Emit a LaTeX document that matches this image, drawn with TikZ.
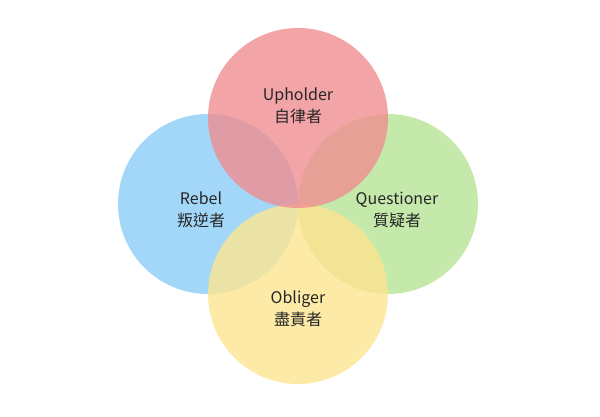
\documentclass[tikz,border=0pt]{standalone}
\usepackage{fontspec}
\setmainfont{Noto Sans CJK TC}
\begin{document}
\begin{tikzpicture}[x=1pt,y=-1pt]
\useasboundingbox[fill=white] (0,0) rectangle (600,417);
\tikzset{circ/.style={circle,minimum size=180pt,inner sep=0pt,fill opacity=0.8,text opacity=1},
lab/.style={align=center,font=\fontsize{16}{22}\selectfont,text=black!85}}
\definecolor{cpink}{HTML}{F08E91}
\definecolor{cblue}{HTML}{8CCDF8}
\definecolor{cgreen}{HTML}{B6E497}
\definecolor{cyellow}{HTML}{FDE590}
\node[circ,fill=cblue] (l) at (208,204) {};
\node[circ,fill=cgreen] (r) at (388,204) {};
\node[circ,fill=cyellow] (b) at (298,294) {};
\node[circ,fill=cpink] (t) at (298,118) {};
\node[lab] (tl) at (298,106) {Upholder\\自律者};
\node[lab] (ll) at (201,210) {Rebel\\叛逆者};
\node[lab] (rl) at (397,210) {Questioner\\質疑者};
\node[lab] (bl) at (298,309) {Obliger\\盡責者};
\end{tikzpicture}
\end{document}
